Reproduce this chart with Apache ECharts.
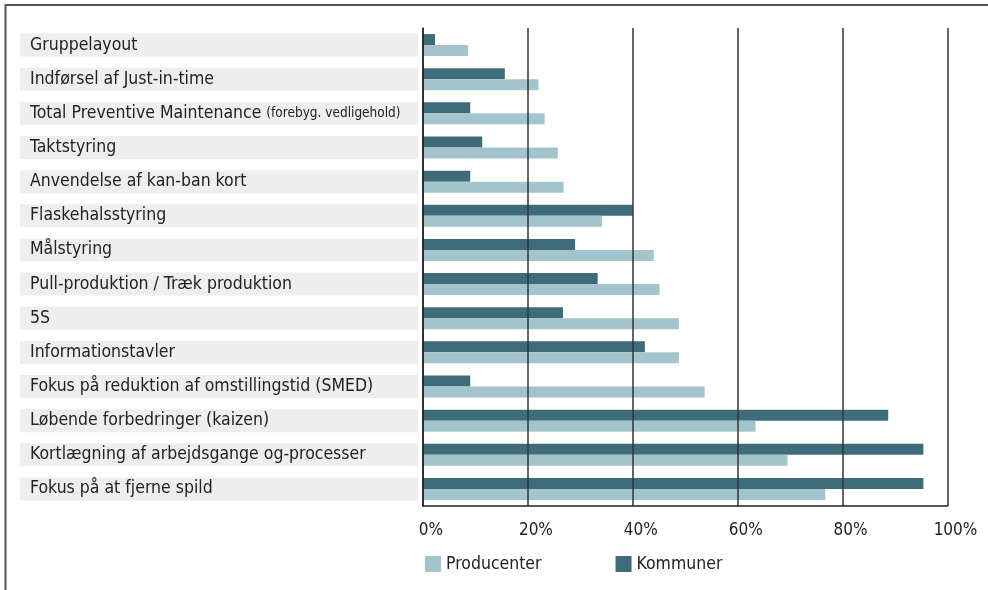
<!DOCTYPE html>
<html>
<head>
<meta charset="utf-8">
<script src="https://cdn.jsdelivr.net/npm/echarts@6/dist/echarts.min.js"></script>
<style>
  html, body { margin: 0; padding: 0; background: #fff; }
  #chart { width: 988px; height: 590px; }
</style>
</head>
<body>
<div id="chart"></div>
<script>
const categories = [
  "Gruppelayout",
  "Indførsel af Just-in-time",
  "Total Preventive Maintenance|(forebyg. vedligehold)",
  "Taktstyring",
  "Anvendelse af kan-ban kort",
  "Flaskehalsstyring",
  "Målstyring",
  "Pull-produktion / Træk produktion",
  "5S",
  "Informationstavler",
  "Fokus på reduktion af omstillingstid (SMED)",
  "Løbende forbedringer (kaizen)",
  "Kortlægning af arbejdsgange og-processer",
  "Fokus på at fjerne spild"
];
const kommuner = [2.3, 15.6, 9.0, 11.3, 9.0, 40.0, 29.0, 33.3, 26.7, 42.3, 9.0, 88.7, 95.4, 95.4];
const producenter = [8.6, 22.0, 23.2, 25.7, 26.8, 34.1, 44.0, 45.1, 48.8, 48.8, 53.7, 63.4, 69.5, 76.7];
const xTicks = { min: 0, max: 100, interval: 20 };
const seriesNames = ["Kommuner", "Producenter"];

const FONT = "'Liberation Sans Narrow', 'DejaVu Sans Condensed', 'Roboto Condensed', sans-serif";
const chart = echarts.init(document.getElementById('chart'), null, { renderer: 'canvas' });

chart.setOption({
  animation: false,
  textStyle: { fontFamily: FONT },
  graphic: [{
    type: 'polyline',
    silent: true,
    shape: { points: [[5.5, 590], [5.5, 5], [988, 5]] },
    style: { stroke: '#555555', lineWidth: 2, fill: null }
  }],
  legend: {
    data: ["Producenter", "Kommuner"],
    left: 425,
    top: 555,
    padding: 0,
    itemWidth: 16,
    itemHeight: 16,
    itemGap: 74,
    icon: 'rect',
    textStyle: { fontFamily: FONT, fontSize: 17.5, color: '#222' }
  },
  grid: {
    left: 423,
    right: 40.5,
    top: 28,
    bottom: 84,
    containLabel: false,
    outerBoundsMode: 'none'
  },
  xAxis: {
    type: 'value',
    min: xTicks.min,
    max: xTicks.max,
    interval: xTicks.interval,
    z: 5,
    axisLine: { show: true, lineStyle: { color: '#222', width: 1.5 } },
    axisTick: { show: false },
    splitLine: { show: true, lineStyle: { color: '#333', width: 1.5 } },
    axisLabel: {
      formatter: '{value}%',
      fontFamily: FONT,
      fontSize: 17,
      color: '#222',
      margin: 16,
      padding: [0, 0, 0, 16]
    }
  },
  yAxis: {
    type: 'category',
    inverse: true,
    data: categories,
    z: 5,
    axisLine: { show: true, lineStyle: { color: '#222', width: 1.5 } },
    axisTick: { show: false },
    splitLine: { show: false },
    axisLabel: {
      interval: 0,
      align: 'left',
      margin: 403,
      width: 388,
      overflow: 'none',
      padding: [0, 0, 0, 10],
      backgroundColor: '#eeeeee',
      lineHeight: 23,
      fontFamily: FONT,
      fontSize: 17.5,
      color: '#222',
      formatter: function (v) {
        const parts = v.split('|');
        return parts.length > 1 ? parts[0] + ' {s|' + parts[1] + '}' : v;
      },
      rich: {
        s: { fontFamily: FONT, fontSize: 13.5, color: '#222', lineHeight: 23 }
      }
    }
  },
  series: [
    {
      name: seriesNames[0],
      type: 'bar',
      data: kommuner,
      barWidth: 11,
      barGap: '0%',
      itemStyle: { color: '#3e6c7b' }
    },
    {
      name: seriesNames[1],
      type: 'bar',
      data: producenter,
      barWidth: 11,
      barGap: '0%',
      itemStyle: { color: '#a3c4cc' }
    }
  ]
});
</script>
</body>
</html>
